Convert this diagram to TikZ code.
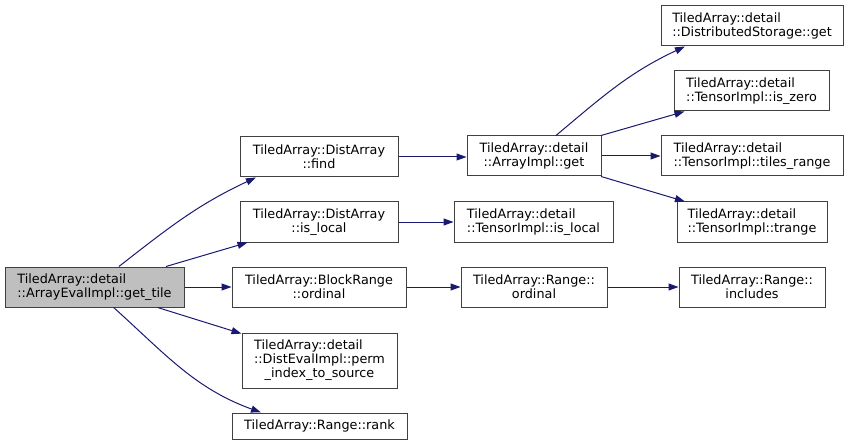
\documentclass[tikz,border=0pt]{standalone}
\usepackage{fontspec}
\setmainfont{DejaVu Sans}
\usetikzlibrary{arrows.meta}
\definecolor{edgeblue}{HTML}{191970}
\definecolor{rootgrey}{HTML}{BFBFBF}

\begin{document}
\begin{tikzpicture}[
    x=0.75pt, y=-0.75pt,
    box/.style={draw=black!75, line width=0.75pt, rectangle, minimum height=30pt, inner sep=0pt, font=\fontsize{9.6}{10.5}\selectfont},
    call/.style={draw=edgeblue, line width=0.75pt, -{Triangle[length=7.5pt,width=5.25pt]}}
]
    \useasboundingbox (0,0) rectangle (848,445);

    % Root
    \node[box, fill=rootgrey, minimum width=134.25pt, align=left] (gettile) at (94.5,287) {TiledArray::detail\\::ArrayEvalImpl::get\_tile};

    % First level
    \node[box, minimum width=118.5pt, align=center] (find) at (319,157) {TiledArray::DistArray\\::find};
    \node[box, minimum width=118.5pt, align=center] (distlocal) at (319,222) {TiledArray::DistArray\\::is\_local};
    \node[box, minimum width=130.5pt, align=center] (blockord) at (319,287) {TiledArray::BlockRange\\::ordinal};
    \node[box, minimum width=116.25pt, minimum height=41.25pt] (perm) at (319.5,360.5) {\begin{tabular}{@{}l@{}}TiledArray::detail\\::DistEvalImpl::perm\\\multicolumn{1}{@{}c@{}}{\_index\_to\_source}\end{tabular}};
    \node[box, minimum width=131.25pt, minimum height=19.5pt] (rank) at (319.5,426) {TiledArray::Range::rank};

    % Second level
    \node[box, minimum width=100.5pt, align=center] (arrget) at (534,156) {TiledArray::detail\\::ArrayImpl::get};
    \node[box, minimum width=119.25pt, align=left] (tenslocal) at (533.5,222) {TiledArray::detail\\::TensorImpl::is\_local};
    \node[box, minimum width=109.5pt, align=center] (rangeord) at (534,287) {TiledArray::Range::\\ordinal};

    % Third level
    \node[box, minimum width=136.5pt, align=left] (storget) at (752,26) {TiledArray::detail\\::DistributedStorage::get};
    \node[box, minimum width=116.25pt, align=left] (iszero) at (751.5,91) {TiledArray::detail\\::TensorImpl::is\_zero};
    \node[box, minimum width=136.5pt, align=left] (tiles) at (752,156) {TiledArray::detail\\::TensorImpl::tiles\_range};
    \node[box, minimum width=112.5pt, align=left] (trange) at (752,222) {TiledArray::detail\\::TensorImpl::trange};
    \node[box, minimum width=109.5pt, align=center] (includes) at (752,287) {TiledArray::Range::\\includes};

    % Calls from get_tile
    \draw[call] (gettile.40) to[out=38,in=205] (find.198);
    \draw[call] (gettile.16) -- (distlocal.196);
    \draw[call] (gettile.east) -- (blockord.west);
    \draw[call] (gettile.-18) -- (perm.161);
    \draw[call] (gettile.-47) to[out=-42,in=160] (rank.167);

    % Further calls
    \draw[call] (find.east) -- (arrget.west |- find.east);
    \draw[call] (distlocal.east) -- (tenslocal.west);
    \draw[call] (blockord.east) -- (rangeord.west);
    \draw[call] (arrget.43) to[out=40,in=205] (storget.197);
    \draw[call] (arrget.17) -- (iszero.197);
    \draw[call] (arrget.east) -- (tiles.west);
    \draw[call] (arrget.-17) -- (trange.163);
    \draw[call] (rangeord.east) -- (includes.west);
\end{tikzpicture}
\end{document}
